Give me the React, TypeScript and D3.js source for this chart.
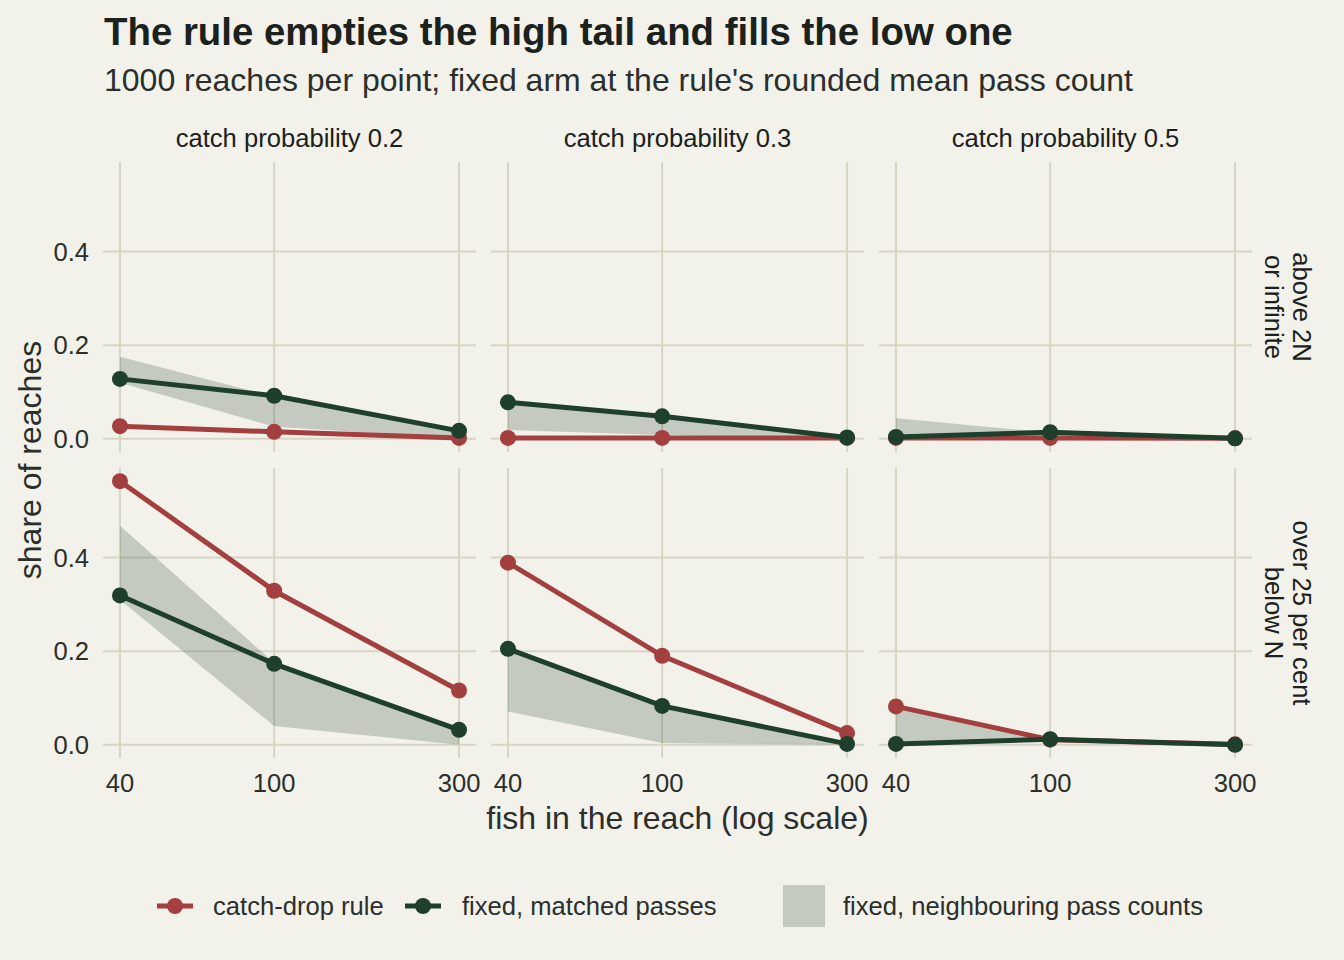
import * as d3 from 'd3';

// x positions: fish in the reach
const FISH = [40, 100, 300];
const CATCH_PROBS = ['catch probability 0.2', 'catch probability 0.3', 'catch probability 0.5'];
const ROW_LABELS = [
  ['above 2N', 'or infinite'],
  ['over 25 per cent', 'below N'],
];
const Y_TICKS = [0, 0.2, 0.4];

// row 1: above 2N or infinite (one array per catch probability)
const RULE_ABOVE = [[0.027, 0.015, 0.002], [0.002, 0.002, 0.002], [0.002, 0.002, 0.001]];
const FIXED_ABOVE = [[0.128, 0.092, 0.017], [0.078, 0.048, 0.003], [0.004, 0.014, 0.001]];
const BAND_LOW_ABOVE = [[0.12, 0.026, 0.001], [0.019, 0.008, 0.001], [0.001, 0.004, 0.0]];
const BAND_HIGH_ABOVE = [[0.175, 0.09, 0.015], [0.074, 0.046, 0.003], [0.044, 0.013, 0.002]];

// row 2: over 25 per cent below N
const RULE_BELOW = [[0.563, 0.329, 0.116], [0.389, 0.19, 0.025], [0.082, 0.011, 0.001]];
const FIXED_BELOW = [[0.319, 0.173, 0.032], [0.205, 0.083, 0.002], [0.002, 0.012, 0.0]];
const BAND_LOW_BELOW = [[0.31, 0.04, 0.0], [0.071, 0.004, 0.0], [0.002, 0.008, 0.0]];
const BAND_HIGH_BELOW = [[0.468, 0.175, 0.03], [0.205, 0.083, 0.002], [0.078, 0.013, 0.001]];

const ROWS = [
  { rule: RULE_ABOVE, fixed: FIXED_ABOVE, low: BAND_LOW_ABOVE, high: BAND_HIGH_ABOVE },
  { rule: RULE_BELOW, fixed: FIXED_BELOW, low: BAND_LOW_BELOW, high: BAND_HIGH_BELOW },
];

const BG = '#f2f1ea';
const GRID = '#d7d6c4';
const RED = '#a33f3f';
const GREEN = '#1e3f2c';
const INK = '#1b211c';
const TEXT = '#2b2f2b';
const FONT = '"Liberation Sans", Arial, Helvetica, sans-serif';

const W = 1344;
const H = 960;
const PANEL_X = [103, 491, 879];
const PANEL_W = 373;
const PANEL_Y = [162, 468];
const PANEL_H = 290;
const PT_R = 8;
const LINE_W = 5;

export default function App() {
  // shared scales, ggplot-like 5% expansion
  const xLog = [Math.log(FISH[0]), Math.log(FISH[FISH.length - 1])];
  const xPad = (xLog[1] - xLog[0]) * 0.05;
  const x = d3.scaleLog()
    .domain([Math.exp(xLog[0] - xPad), Math.exp(xLog[1] + xPad)])
    .range([0, PANEL_W]);

  const allVals = ROWS.flatMap(r => [r.rule, r.fixed, r.low, r.high].flat(2));
  const yMax = d3.max(allVals) as number;
  const yMin = Math.min(0, d3.min(allVals) as number);
  const yPad = (yMax - yMin) * 0.05;
  const y = d3.scaleLinear().domain([yMin - yPad, yMax + yPad]).range([PANEL_H, 0]);

  const line = d3.line<number>().x((_, i) => x(FISH[i])).y(v => y(v));

  return (
    <svg width={W} height={H} style={{ position: 'absolute', left: 0, top: 0, display: 'block' }}
      fontFamily={FONT}>
      <rect width={W} height={H} fill={BG} />

      <text x={104} y={45} fontSize={38.4} fontWeight="bold" fill={INK}>
        The rule empties the high tail and fills the low one
      </text>
      <text x={104} y={91} fontSize={32} fill={TEXT}>
        1000 reaches per point; fixed arm at the rule's rounded mean pass count
      </text>

      {CATCH_PROBS.map((label, c) => (
        <text key={label} x={PANEL_X[c] + PANEL_W / 2} y={147} fontSize={25.6}
          textAnchor="middle" fill={INK}>{label}</text>
      ))}

      {ROWS.map((row, r) => (
        <g key={r}>
          {CATCH_PROBS.map((_, c) => {
            const area = d3.area<number>()
              .x((_, i) => x(FISH[i]))
              .y0((_, i) => y(row.low[c][i]))
              .y1((_, i) => y(row.high[c][i]));
            return (
              <g key={c} transform={`translate(${PANEL_X[c]},${PANEL_Y[r]})`}>
                {Y_TICKS.map(t => (
                  <line key={t} x1={0} x2={PANEL_W} y1={y(t)} y2={y(t)} stroke={GRID} strokeWidth={2} />
                ))}
                {FISH.map(f => (
                  <line key={f} x1={x(f)} x2={x(f)} y1={0} y2={PANEL_H} stroke={GRID} strokeWidth={2} />
                ))}
                <path d={area(FISH) ?? ''} fill={GREEN} fillOpacity={0.22} />
                <path d={line(row.rule[c]) ?? ''} fill="none" stroke={RED} strokeWidth={LINE_W} />
                {row.rule[c].map((v, i) => (
                  <circle key={i} cx={x(FISH[i])} cy={y(v)} r={PT_R} fill={RED} />
                ))}
                <path d={line(row.fixed[c]) ?? ''} fill="none" stroke={GREEN} strokeWidth={LINE_W} />
                {row.fixed[c].map((v, i) => (
                  <circle key={i} cx={x(FISH[i])} cy={y(v)} r={PT_R} fill={GREEN} />
                ))}
              </g>
            );
          })}
          {/* y tick labels */}
          {Y_TICKS.map(t => (
            <text key={t} x={89} y={PANEL_Y[r] + y(t)} dy="0.36em" fontSize={25.6}
              textAnchor="end" fill={TEXT}>{d3.format('.1f')(t)}</text>
          ))}
          {/* right strip */}
          <g transform={`translate(${1266},${PANEL_Y[r] + PANEL_H / 2}) rotate(90)`}>
            {ROW_LABELS[r].map((s, k) => (
              <text key={k} x={0} y={k === 0 ? -27 : 1} fontSize={25.6} textAnchor="middle" fill={INK}>{s}</text>
            ))}
          </g>
        </g>
      ))}

      {/* x tick labels */}
      {CATCH_PROBS.map((_, c) => FISH.map(f => (
        <text key={`${c}-${f}`} x={PANEL_X[c] + x(f)} y={792} fontSize={25.6}
          textAnchor="middle" fill={TEXT}>{f}</text>
      )))}

      <text x={(PANEL_X[0] + PANEL_X[2] + PANEL_W) / 2} y={829} fontSize={32}
        textAnchor="middle" fill={TEXT}>fish in the reach (log scale)</text>
      <text transform={`translate(41,${(PANEL_Y[0] + PANEL_Y[1] + PANEL_H) / 2}) rotate(-90)`}
        fontSize={32} textAnchor="middle" fill={TEXT}>share of reaches</text>

      {/* legend */}
      <g transform="translate(0,906)">
        <line x1={157} x2={193} stroke={RED} strokeWidth={LINE_W} />
        <circle cx={175} cy={0} r={PT_R} fill={RED} />
        <text x={213} y={0} dy="0.36em" fontSize={25.6} fill={TEXT}>catch-drop rule</text>
        <line x1={405} x2={441} stroke={GREEN} strokeWidth={LINE_W} />
        <circle cx={423} cy={0} r={PT_R} fill={GREEN} />
        <text x={462} y={0} dy="0.36em" fontSize={25.6} fill={TEXT}>fixed, matched passes</text>
        <rect x={783} y={-21} width={42} height={42} fill={GREEN} fillOpacity={0.22} />
        <text x={843} y={0} dy="0.36em" fontSize={25.6} fill={TEXT}>fixed, neighbouring pass counts</text>
      </g>
    </svg>
  );
}
